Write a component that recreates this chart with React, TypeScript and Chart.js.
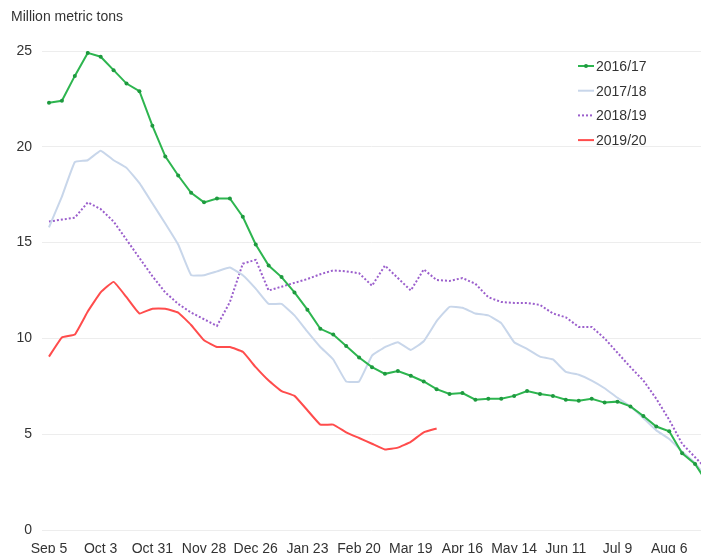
import React, { useEffect, useRef } from 'react';
import { Chart, registerables } from 'chart.js';

Chart.register(...registerables);

const FONT = '"Liberation Sans", Arial, Helvetica, sans-serif';

const yTitle = 'Million metric tons';

const weeks = [
  'Sep 5', 'Sep 12', 'Sep 19', 'Sep 26', 'Oct 3', 'Oct 10', 'Oct 17', 'Oct 24',
  'Oct 31', 'Nov 7', 'Nov 14', 'Nov 21', 'Nov 28', 'Dec 5', 'Dec 12', 'Dec 19',
  'Dec 26', 'Jan 2', 'Jan 9', 'Jan 16', 'Jan 23', 'Jan 30', 'Feb 6', 'Feb 13',
  'Feb 20', 'Feb 27', 'Mar 5', 'Mar 12', 'Mar 19', 'Mar 26', 'Apr 2', 'Apr 9',
  'Apr 16', 'Apr 23', 'Apr 30', 'May 7', 'May 14', 'May 21', 'May 28', 'Jun 4',
  'Jun 11', 'Jun 18', 'Jun 25', 'Jul 2', 'Jul 9', 'Jul 16', 'Jul 23', 'Jul 30',
  'Aug 6', 'Aug 13', 'Aug 20', 'Aug 27',
];

const seriesNames = ['2016/17', '2017/18', '2018/19', '2019/20'];

const s1617 = [
  22.3, 22.4, 23.7, 24.9, 24.7, 24.0, 23.3, 22.9, 21.1, 19.5, 18.5, 17.6, 17.1,
  17.3, 17.3, 16.35, 14.9, 13.8, 13.2, 12.4, 11.5, 10.5, 10.2, 9.6, 9.0, 8.5,
  8.15, 8.3, 8.05, 7.75, 7.35, 7.1, 7.15, 6.8, 6.85, 6.85, 7.0, 7.25, 7.1, 7.0,
  6.8, 6.75, 6.85, 6.65, 6.7, 6.45, 5.95, 5.4, 5.15, 4.0, 3.45, 2.4,
];

const s1718 = [
  15.8, 17.4, 19.2, 19.3, 19.8, 19.3, 18.9, 18.1, 17.05, 16.0, 14.9, 13.3, 13.3,
  13.5, 13.7, 13.3, 12.6, 11.8, 11.8, 11.2, 10.35, 9.55, 8.9, 7.75, 7.75, 9.1,
  9.55, 9.8, 9.4, 9.85, 10.9, 11.65, 11.6, 11.3, 11.2, 10.8, 9.8, 9.45, 9.05,
  8.9, 8.25, 8.1, 7.8, 7.4, 6.9, 6.45, 5.85, 5.2, 4.75, 4.1, 3.5, 2.6,
];

const s1819 = [
  16.1, 16.2, 16.3, 17.1, 16.75, 16.1, 15.15, 14.2, 13.25, 12.4, 11.8, 11.35,
  11.0, 10.65, 11.9, 13.9, 14.1, 12.5, 12.7, 12.9, 13.1, 13.35, 13.55, 13.5,
  13.4, 12.75, 13.8, 13.15, 12.5, 13.6, 13.05, 13.0, 13.15, 12.85, 12.15, 11.9,
  11.85, 11.85, 11.75, 11.3, 11.1, 10.6, 10.6, 10.0, 9.25, 8.5, 7.8, 6.85, 5.75,
  4.5, 3.8, 3.1,
];

const s1920 = [
  9.05, 10.05, 10.2, 11.4, 12.4, 12.95, 12.15, 11.3, 11.55, 11.55, 11.35, 10.7,
  9.9, 9.55, 9.55, 9.3, 8.5, 7.8, 7.25, 7.0, 6.25, 5.5, 5.5, 5.1, 4.8, 4.5, 4.2,
  4.3, 4.6, 5.1, 5.3,
];

const yTicks = [0, 5, 10, 15, 20, 25];
const labelEvery = 4;

const toPoints = (arr: number[]) => arr.map((v, i) => ({ x: i, y: v }));

const legendPlugin = {
  id: 'customLegend',
  afterDraw(chart: any) {
    const ctx = chart.ctx as CanvasRenderingContext2D;
    ctx.save();
    ctx.fillStyle = '#333';
    ctx.textBaseline = 'middle';
    ctx.textAlign = 'left';
    ctx.font = `14px ${FONT}`;
    ctx.fillText(yTitle, 11, 17);
    chart.data.datasets.forEach((ds: any, i: number) => {
      const y = 66 + i * 24.7;
      ctx.beginPath();
      ctx.strokeStyle = ds.borderColor;
      ctx.lineWidth = 2;
      ctx.setLineDash(ds.borderDash || []);
      ctx.moveTo(578, y);
      ctx.lineTo(594, y);
      ctx.stroke();
      ctx.setLineDash([]);
      if (ds.pointRadius > 0) {
        ctx.beginPath();
        ctx.fillStyle = ds.pointBackgroundColor;
        ctx.arc(586, y, 2, 0, Math.PI * 2);
        ctx.fill();
      }
      ctx.fillStyle = '#333';
      ctx.fillText(ds.label, 596, y + 1);
    });
    ctx.restore();
  },
};

export default function App() {
  const ref = useRef<HTMLCanvasElement | null>(null);

  useEffect(() => {
    if (!ref.current) return;
    const chart = new Chart(ref.current, {
      type: 'line',
      data: {
        datasets: [
          {
            label: seriesNames[0],
            data: toPoints(s1617),
            borderColor: '#2db54f',
            backgroundColor: '#2db54f',
            borderWidth: 2,
            pointRadius: 2,
            pointBorderWidth: 0,
            pointBackgroundColor: '#1e9a3f',
            tension: 0,
          },
          {
            label: seriesNames[1],
            data: toPoints(s1718),
            borderColor: '#c8d6ea',
            backgroundColor: '#c8d6ea',
            borderWidth: 2,
            pointRadius: 0,
            tension: 0.1,
          },
          {
            label: seriesNames[2],
            data: toPoints(s1819),
            borderColor: '#9b5fcc',
            backgroundColor: '#9b5fcc',
            borderWidth: 2,
            borderDash: [2, 2],
            pointRadius: 0,
            tension: 0,
          },
          {
            label: seriesNames[3],
            data: toPoints(s1920),
            borderColor: '#ff4c4c',
            backgroundColor: '#ff4c4c',
            borderWidth: 2,
            pointRadius: 0,
            tension: 0.1,
          },
        ],
      },
      options: {
        responsive: false,
        animation: false,
        events: [],
        layout: { padding: { top: 51, left: 0, right: 0, bottom: 0 } },
        plugins: {
          legend: { display: false },
          tooltip: { enabled: false },
          title: { display: false },
        },
        scales: {
          x: {
            type: 'linear',
            min: -0.54,
            max: 50.46,
            grid: { display: false },
            border: { display: false },
            afterBuildTicks: (scale: any) => {
              scale.ticks = weeks
                .map((_, i) => i)
                .filter((i) => i % labelEvery === 0 && i <= 50)
                .map((i) => ({ value: i }));
            },
            afterFit: (scale: any) => {
              scale.height = 23;
              scale.paddingLeft = 0;
              scale.paddingRight = 0;
            },
            ticks: {
              autoSkip: false,
              maxRotation: 0,
              minRotation: 0,
              padding: 3,
              color: '#333',
              font: { family: FONT, size: 14 },
              callback: (v: any) => weeks[Math.round(v)] ?? '',
            },
          },
          y: {
            min: 0,
            max: 25,
            afterBuildTicks: (scale: any) => {
              scale.ticks = yTicks.map((v) => ({ value: v }));
            },
            afterFit: (scale: any) => {
              scale.width = 42;
              scale.paddingTop = 0;
              scale.paddingBottom = 0;
            },
            grid: { color: '#ededed', lineWidth: 1, drawTicks: false },
            border: { display: false },
            ticks: {
              padding: 10,
              color: '#333',
              font: { family: FONT, size: 14 },
            },
          },
        },
      },
      plugins: [legendPlugin],
    } as any);
    return () => chart.destroy();
  }, []);

  return (
    <div style={{ position: 'fixed', left: 0, top: 0, width: 705, height: 553, background: '#fff' }}>
      <canvas ref={ref} width={705} height={553} style={{ width: 705, height: 553, display: 'block' }} />
    </div>
  );
}
